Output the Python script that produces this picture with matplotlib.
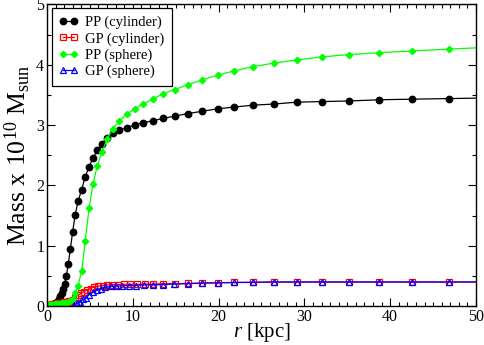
import matplotlib
matplotlib.use('Agg')
import matplotlib.pyplot as plt
from matplotlib.ticker import MultipleLocator

plt.rcParams['font.family'] = 'Liberation Serif'
plt.rcParams['mathtext.fontset'] = 'custom'
plt.rcParams['mathtext.rm'] = 'Liberation Serif'
plt.rcParams['mathtext.it'] = 'Liberation Serif:italic'

# radii (kpc) shared by the two PP curves
r_pp = [0.21, 0.23, 0.25, 0.28, 0.31, 0.34, 0.37, 0.41, 0.45, 0.49, 0.54, 0.60,
        0.66, 0.72, 0.79, 0.87, 0.96, 1.06, 1.16, 1.28, 1.41, 1.55, 1.70, 1.87,
        2.05, 2.25, 2.47, 2.72, 2.99, 3.28, 3.63, 4.04, 4.45, 4.90, 5.36, 5.85,
        6.40, 7.00, 7.68, 8.45, 9.30, 10.2, 11.2, 12.3, 13.5, 14.9, 16.4, 18.1,
        19.9, 21.85, 24.05, 26.5, 29.1, 32.0, 35.2, 38.7, 42.6, 46.85, 51.5]

# PP (cylinder), 1e10 Msun
m_pp_cyl = [0.001, 0.001, 0.002, 0.002, 0.003, 0.004, 0.005, 0.006, 0.008, 0.010,
            0.012, 0.015, 0.019, 0.023, 0.028, 0.034, 0.043, 0.055, 0.07, 0.09,
            0.12, 0.16, 0.21, 0.28, 0.37, 0.50, 0.69, 0.945, 1.23, 1.51, 1.74,
            1.93, 2.14, 2.31, 2.45, 2.58, 2.69, 2.79, 2.87, 2.92, 2.96, 3.00,
            3.04, 3.07, 3.11, 3.15, 3.19, 3.23, 3.27, 3.30, 3.33, 3.35, 3.38,
            3.39, 3.40, 3.42, 3.43, 3.44, 3.45]

# PP (sphere)
m_pp_sph = [0.008, 0.009, 0.010, 0.011, 0.012, 0.013, 0.014, 0.015, 0.016, 0.017,
            0.018, 0.020, 0.021, 0.022, 0.024, 0.025, 0.027, 0.029, 0.031, 0.033,
            0.036, 0.039, 0.042, 0.046, 0.050, 0.056, 0.064, 0.08, 0.12, 0.21,
            0.34, 0.58, 1.07, 1.62, 2.02, 2.32, 2.55, 2.77, 2.94, 3.07, 3.18,
            3.27, 3.35, 3.43, 3.52, 3.59, 3.67, 3.75, 3.83, 3.90, 3.97, 4.03,
            4.08, 4.13, 4.17, 4.20, 4.23, 4.26, 4.29]

# GP (cylinder)
r_gp_cyl = [0.21, 0.27, 0.34, 0.43, 0.54, 0.66, 0.78, 0.90, 1.02, 1.12, 1.22,
            1.33, 1.45, 1.58, 1.72, 1.87, 2.03, 2.20, 2.39, 2.59, 2.78, 2.99,
            3.27, 3.57, 3.96, 4.31, 4.70, 5.09, 5.52, 5.98, 6.49, 6.99, 7.62,
            8.24, 8.93, 9.67, 10.5, 11.4, 12.4, 13.5, 14.9, 16.4, 18.1, 19.9,
            21.85, 24.05, 26.5, 29.1, 32.0, 35.2, 38.7, 42.6, 46.85, 51.5]
m_gp_cyl = [0.020, 0.021, 0.022, 0.024, 0.026, 0.028, 0.030, 0.032, 0.035, 0.037,
            0.040, 0.043, 0.046, 0.050, 0.054, 0.058, 0.062, 0.067, 0.073, 0.079,
            0.087, 0.10, 0.14, 0.18, 0.21, 0.24, 0.265, 0.29, 0.315, 0.33, 0.34,
            0.35, 0.355, 0.355, 0.36, 0.36, 0.36, 0.365, 0.365, 0.37, 0.37,
            0.375, 0.38, 0.385, 0.39, 0.39, 0.395, 0.395, 0.395, 0.395, 0.395,
            0.395, 0.395, 0.395]

# GP (sphere)
r_gp_sph = [3.15, 3.53, 3.85, 4.23, 4.55, 4.93, 5.32, 5.79, 6.26, 6.80, 7.42,
            8.04, 8.74, 9.52, 10.37, 11.3, 12.3, 13.5, 14.84, 16.4, 18.1, 19.9,
            21.85, 24.05, 26.5, 29.1, 32.0, 35.2, 38.7, 42.6, 46.85, 51.5]
m_gp_sph = [0.017, 0.045, 0.07, 0.11, 0.14, 0.19, 0.23, 0.265, 0.29, 0.31, 0.325,
            0.33, 0.335, 0.34, 0.34, 0.35, 0.35, 0.355, 0.365, 0.37, 0.38, 0.385,
            0.39, 0.395, 0.40, 0.40, 0.40, 0.40, 0.40, 0.40, 0.40, 0.40]

fig = plt.figure(figsize=(4.85, 3.45), dpi=100)
ax = fig.add_axes([0.0969, 0.113, 0.8845, 0.874])

ax.plot(r_pp, m_pp_cyl, color='black', lw=0.9, marker='o', ms=4.6,
        label='PP (cylinder)')
ax.plot(r_gp_cyl, m_gp_cyl, color='#ff0000', lw=0.9, marker='s', ms=5,
        mfc='none', mew=0.9, label='GP (cylinder)')
ax.plot(r_pp, m_pp_sph, color='#00ff00', lw=0.9, marker='D', ms=3.2,
        label='PP (sphere)')
ax.plot(r_gp_sph, m_gp_sph, color='#0000ff', lw=0.9, marker='^', ms=4.5,
        mfc='none', mew=0.9, label='GP (sphere)')

ax.set_xlim(0, 50)
ax.set_ylim(0, 5)
ax.xaxis.set_major_locator(MultipleLocator(10))
ax.xaxis.set_minor_locator(MultipleLocator(1))
ax.yaxis.set_major_locator(MultipleLocator(1))
ax.yaxis.set_minor_locator(MultipleLocator(0.5))
ax.tick_params(which='both', direction='in', top=True, right=True,
               labelsize=11.5, pad=2)
ax.tick_params(which='major', length=6, width=0.8)
ax.tick_params(which='minor', length=3, width=0.8)
for s in ax.spines.values():
    s.set_linewidth(1.0)

ax.set_xlabel(r'$\mathit{r}$ [kpc]', fontsize=15, labelpad=-3)
ax.set_ylabel(r'Mass x 10$^{10}$ M$_{\mathrm{sun}}$', fontsize=18.5,
              labelpad=2)

leg = ax.legend(loc='upper left', bbox_to_anchor=(0.011, 0.987),
                borderaxespad=0, fontsize=10.5, numpoints=2, fancybox=False,
                framealpha=1, edgecolor='black', handlelength=1.35,
                handletextpad=0.45, labelspacing=0.2, borderpad=0.5)
leg.get_frame().set_linewidth(0.9)

fig.savefig('out.png', dpi=100)
